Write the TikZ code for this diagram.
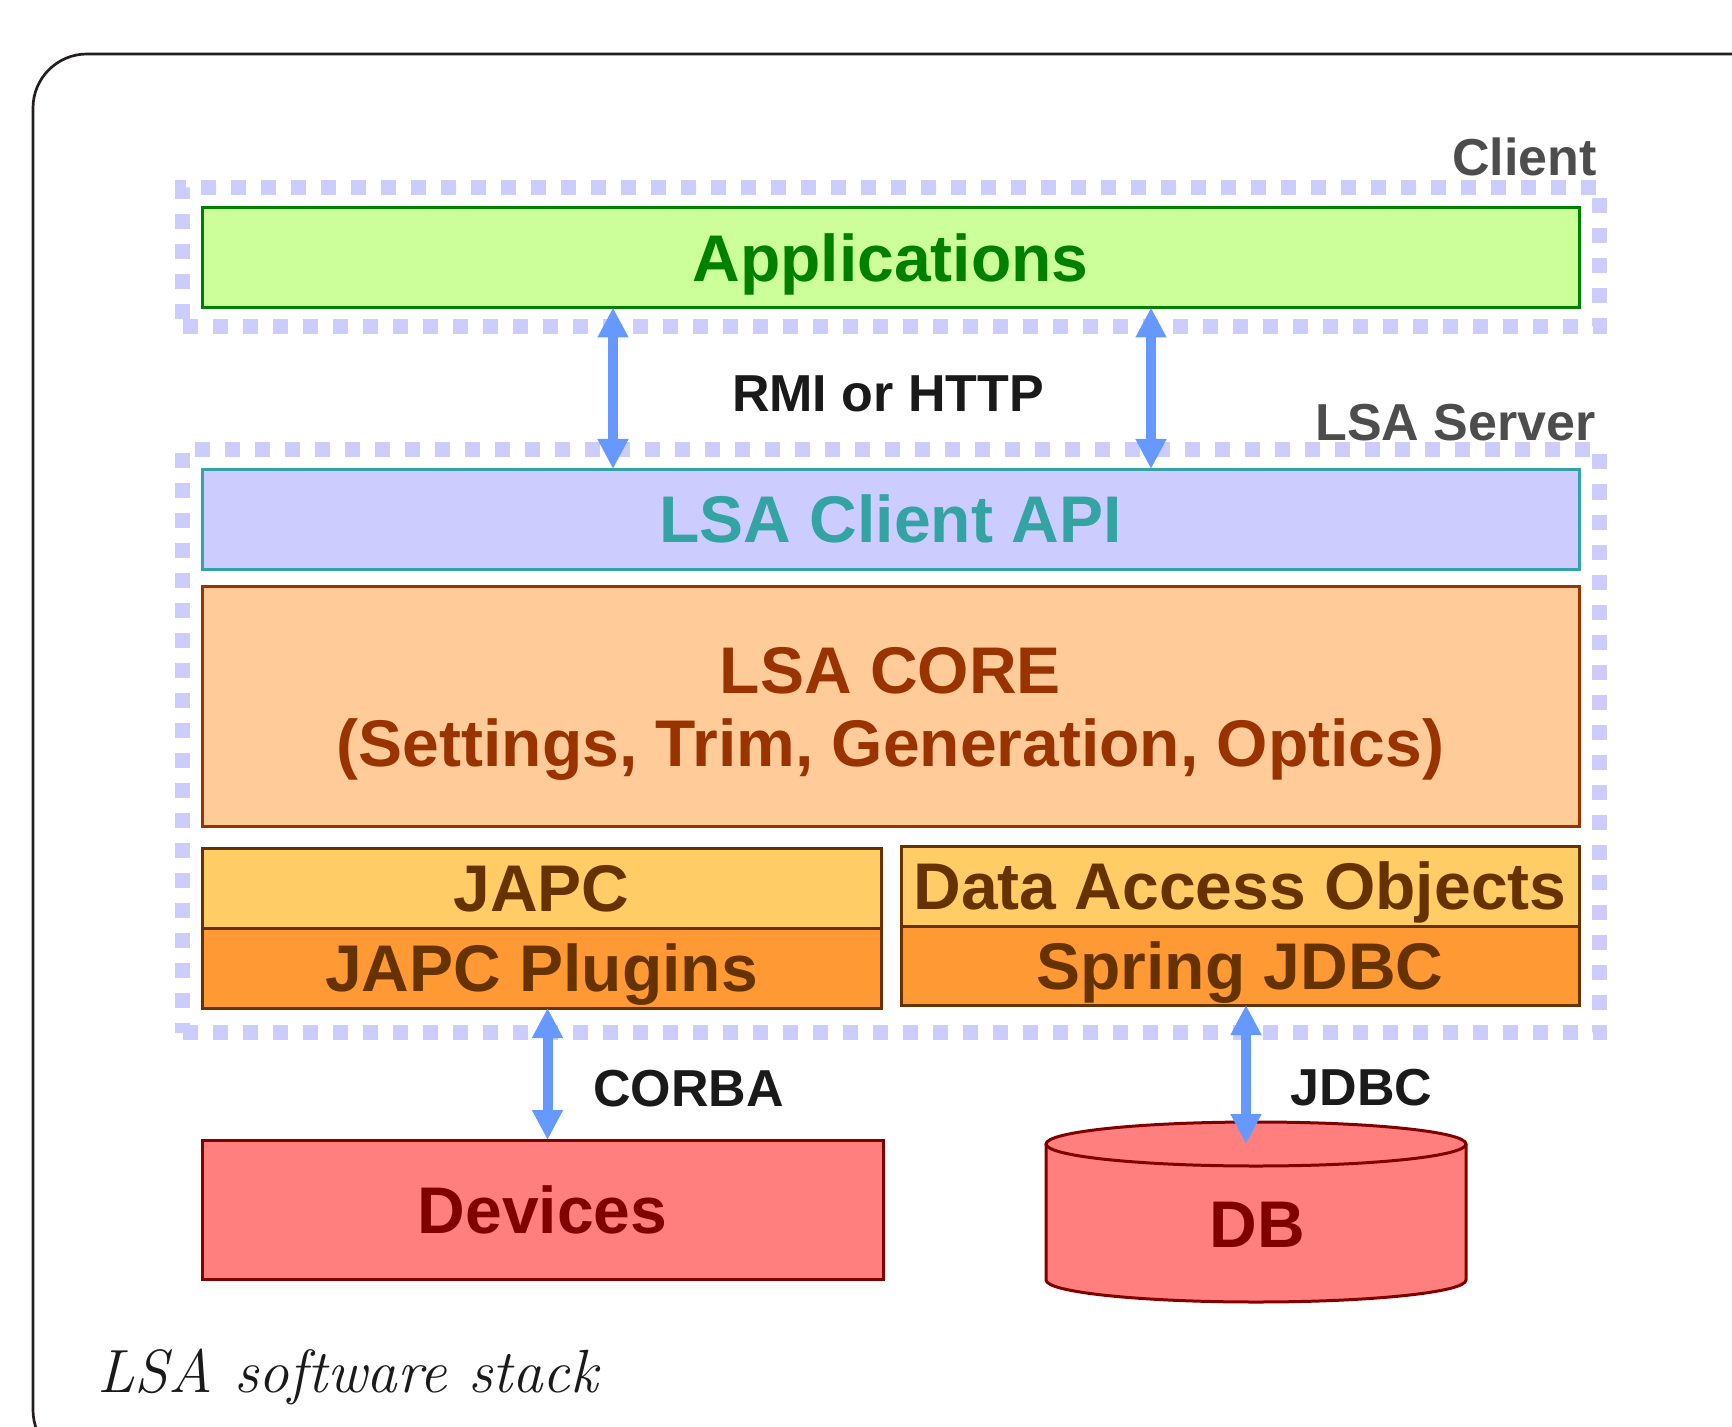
\documentclass[tikz,border=0pt]{standalone}
\usepackage{fontspec}
\setsansfont{Liberation Sans}
\usetikzlibrary{arrows.meta,positioning}

\definecolor{zonelav}{HTML}{CCCCFF}
\definecolor{appfill}{HTML}{CCFF99}
\definecolor{appdark}{HTML}{008000}
\definecolor{apifill}{HTML}{CCCCFF}
\definecolor{apiteal}{HTML}{33A3A3}
\definecolor{corefill}{HTML}{FFCC99}
\definecolor{coredark}{HTML}{993300}
\definecolor{japcfill}{HTML}{FFCC66}
\definecolor{plugfill}{HTML}{FF9933}
\definecolor{stackbrown}{HTML}{663300}
\definecolor{devfill}{HTML}{FF7F7F}
\definecolor{devdark}{HTML}{800000}
\definecolor{linkblue}{HTML}{6699FF}
\definecolor{labelgray}{HTML}{4D4D4D}
\definecolor{textdark}{HTML}{1A1A1A}
\definecolor{framedark}{HTML}{231F20}

\newcommand{\layerfont}{\sffamily\bfseries\fontsize{33}{36.5}\selectfont}
\newcommand{\linkfont}{\sffamily\bfseries\fontsize{26}{30}\selectfont}

\tikzset{
  stackbox/.style={draw, line width=1.5pt, inner sep=0pt, outer sep=0pt,
    font=\layerfont, text height=23.6pt, text depth=0pt},
  zone/.style={draw=zonelav, line width=7.5pt, dash pattern=on 7.5pt off 7.5pt,
    inner sep=0pt, outer sep=0pt},
  link/.style={linkblue, line width=5pt,
    {Triangle[length=15pt,width=14.5pt]}-{Triangle[length=15pt,width=14.5pt]}},
  proto/.style={font=\linkfont, text=textdark, inner sep=0pt,
    text height=18.6pt, text depth=0pt},
  zonelabel/.style={font=\linkfont, text=labelgray, inner sep=0pt, anchor=base east},
}

\begin{document}
\begin{tikzpicture}[x=0.5pt, y=-0.5pt]
  \useasboundingbox (0,0) rectangle (1732,1427);
  \clip (0,0) rectangle (1732,1427);
  % slide frame, runs off the right and bottom edges
  \draw[framedark, line width=1.35pt, rounded corners=27pt] (33,54) rectangle (1800,1464);

  % dashed tiers
  \node[zone, minimum width=708.5pt, minimum height=69.5pt] (clientzone) at (891,257) {};
  \node[zone, minimum width=708.5pt, minimum height=291.5pt] (serverzone) at (891,741) {};
  \node[zonelabel] (clientlbl) at ([xshift=-1.25pt,yshift=5.75pt]clientzone.north east) {Client};
  \node[zonelabel] (serverlbl) at ([xshift=-1.75pt,yshift=4.75pt]serverzone.north east) {LSA Server};

  % the stack
  \node[stackbox, draw=appdark, fill=appfill, text=appdark,
    minimum width=688.5pt, minimum height=50pt] (apps) at (890.5,257.5) {Applications};
  \node[stackbox, draw=apiteal, fill=apifill, text=apiteal,
    minimum width=688.5pt, minimum height=50pt] (api) at (890.5,519) {LSA Client API};
  \node[stackbox, draw=coredark, fill=corefill, text=coredark, align=center, text height=60.1pt,
    minimum width=688.5pt, minimum height=120pt] (core) at (890.5,706)
    {LSA CORE\\(Settings, Trim, Generation, Optics)};
  \node[stackbox, draw=stackbrown, fill=japcfill, text=stackbrown,
    minimum width=339.5pt, minimum height=40pt] (japc) at (541.5,888) {JAPC};
  \node[stackbox, draw=stackbrown, fill=plugfill, text=stackbrown,
    minimum width=339.5pt, minimum height=40pt, below=0pt of japc] (plugins) {JAPC Plugins};
  \node[stackbox, draw=stackbrown, fill=japcfill, text=stackbrown,
    minimum width=339pt, minimum height=40pt] (dao) at (1240,886) {Data Access Objects};
  \node[stackbox, draw=stackbrown, fill=plugfill, text=stackbrown,
    minimum width=339pt, minimum height=39.5pt, below=0pt of dao] (spring) {Spring JDBC};

  % back ends
  \node[stackbox, draw=devdark, fill=devfill, text=devdark,
    minimum width=340.5pt, minimum height=69.5pt] (devices) at (542.5,1209.5) {Devices};
  \fill[devfill] (1046,1144) -- (1046,1280) arc[start angle=180, end angle=0, x radius=210, y radius=22]
    -- (1466,1144) arc[start angle=0, end angle=-180, x radius=210, y radius=22] -- cycle;
  \draw[devdark, line width=1.5pt] (1046,1144) -- (1046,1280)
    arc[start angle=180, end angle=0, x radius=210, y radius=22] -- (1466,1144);
  \draw[devdark, line width=1.5pt] (1256,1144) ellipse [x radius=210, y radius=22];
  \coordinate (dbtop) at (1256,1144);
  \node[stackbox, draw=none, text=devdark] (db) at (1257,1224) {DB};

  % protocols
  \draw[link] ([xshift=-138.75pt]apps.south) -- ([xshift=-138.75pt]api.north);
  \draw[link] ([xshift=130.25pt]apps.south) -- ([xshift=130.25pt]api.north);
  \draw[link] ([xshift=3pt]plugins.south) -- ([xshift=3pt]plugins.south |- devices.north);
  \draw[link] ([xshift=3pt]spring.south) -- ([xshift=3pt]spring.south |- dbtop);
  \node[proto] (rmi) at (888,393) {RMI or HTTP};
  \node[proto] (corba) at (688.5,1087.5) {CORBA};
  \node[proto] (jdbc) at (1361.5,1087) {JDBC};

  % caption
  \node[anchor=base west, inner sep=0pt, text=textdark,
    font=\itshape\fontsize{30.5}{36}\selectfont] (caption) at (97,1392) {LSA software stack};
\end{tikzpicture}
\end{document}
